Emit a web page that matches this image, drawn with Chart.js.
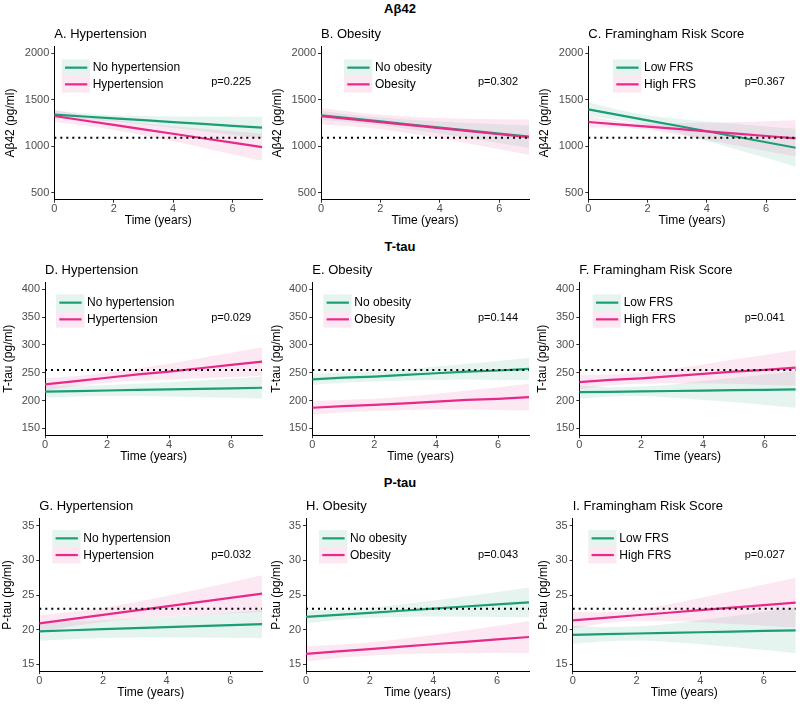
<!DOCTYPE html>
<html><head><meta charset="utf-8">
<script src="https://cdn.jsdelivr.net/npm/chart.js@4.4.1/dist/chart.umd.min.js"></script>
<style>
html,body{margin:0;padding:0;background:#fff;}
#wrap{position:relative;width:800px;height:704px;overflow:hidden;font-family:"Liberation Sans",Arial,sans-serif;}
.rowtitle{position:absolute;left:0;width:800px;text-align:center;font-weight:bold;font-size:13px;line-height:16px;color:#000;}
canvas{position:absolute;}
</style></head><body>
<div id="wrap">
<div class="rowtitle" style="top:1px">Aβ42</div>
<div class="rowtitle" style="top:238.5px">T-tau</div>
<div class="rowtitle" style="top:474.8px">P-tau</div>
</div>
<script>
// ---------- data ----------
const times = [0,1,2,3,4,5,6,7];
const xTicks = [0,2,4,6];
const xRange = [0,7];
const abTicks = [500,1000,1500,2000];
const ttauTicks = [150,200,250,300,350,400];
const ptauTicks = [15,20,25,30,35];
const abRange = [425,2075];
const ttauRange = [137.5,412.5];
const ptauRange = [14,36];
const abCutoff = 1092, ttauCutoff = 255, ptauCutoff = 23;

// A. Hypertension (Abeta42)
const A_noHtn_fit = [1340,1320,1300,1280,1260,1240,1220,1200];
const A_noHtn_lo  = [1295,1286,1266,1235,1199,1161,1122,1082];
const A_noHtn_hi  = [1385,1354,1334,1325,1321,1319,1318,1318];
const A_htn_fit   = [1325,1277,1229,1181,1134,1086,1038,990];
const A_htn_lo    = [1260,1222,1174,1116,1053,985,915,845];
const A_htn_hi    = [1390,1332,1284,1246,1215,1187,1161,1135];
// B. Obesity (Abeta42)
const B_noObe_fit = [1332,1299,1267,1234,1201,1168,1136,1103];
const B_noObe_lo  = [1282,1258,1226,1184,1136,1086,1035,983];
const B_noObe_hi  = [1382,1340,1308,1284,1266,1250,1237,1223];
const B_obe_fit   = [1325,1292,1260,1227,1195,1162,1129,1097];
const B_obe_lo    = [1235,1214,1182,1137,1085,1028,967,907];
const B_obe_hi    = [1415,1370,1338,1317,1305,1297,1291,1287];
// C. FRS (Abeta42)
const C_low_fit  = [1397,1338,1279,1220,1161,1102,1043,984];
const C_low_lo   = [1322,1283,1224,1145,1057,966,873,779];
const C_low_hi   = [1472,1393,1334,1295,1265,1239,1213,1189];
const C_high_fit = [1261,1236,1211,1186,1160,1135,1110,1085];
const C_high_lo  = [1201,1202,1177,1126,1068,1009,950,890];
const C_high_hi  = [1321,1270,1245,1246,1252,1261,1270,1280];
// D. Hypertension (T-tau)
const D_noHtn_fit = [216,217,218,219,220,221,222,223];
const D_noHtn_lo  = [205,207,208,208,207,206,205,203];
const D_noHtn_hi  = [227,227,228,230,233,236,239,243];
const D_htn_fit   = [229,235,241,247,252,258,264,270];
const D_htn_lo    = [218,226,232,236,238,240,242,244];
const D_htn_hi    = [240,244,250,258,266,276,286,296];
// E. Obesity (T-tau)
const E_noObe_fit = [238,241,243,246,249,252,254,257];
const E_noObe_lo  = [228,232,234,236,237,238,237,237];
const E_noObe_hi  = [248,250,252,256,261,266,271,277];
const E_obe_fit   = [187,190,192,195,198,201,203,206];
const E_obe_lo    = [175,179,181,183,184,184,183,182];
const E_obe_hi    = [199,201,203,207,212,218,224,230];
// F. FRS (T-tau)
const F_low_fit  = [215,215.7,216.4,217.1,217.9,218.6,219.3,220];
const F_low_lo   = [203,207,208,205,201,197,192,187];
const F_low_hi   = [227,224,225,229,235,241,247,253];
const F_high_fit = [233,237,240,244,248,252,255,259];
const F_high_lo  = [220,227,230,231,231,230,228,227];
const F_high_hi  = [246,247,250,257,265,274,282,291];
// G. Hypertension (P-tau)
const G_noHtn_fit = [19.76,19.91,20.06,20.21,20.35,20.50,20.65,20.8];
const G_noHtn_lo  = [18.41,18.63,18.78,18.86,18.88,18.87,18.82,18.75];
const G_noHtn_hi  = [21.11,21.2,21.35,21.56,21.82,22.13,22.48,22.85];
const G_htn_fit   = [20.9,21.51,22.13,22.74,23.36,23.97,24.59,25.2];
const G_htn_lo    = [19.7,20.49,21.11,21.54,21.86,22.12,22.35,22.55];
const G_htn_hi    = [22.1,22.53,23.15,23.94,24.86,25.82,26.83,27.85];
// H. Obesity (P-tau)
const H_noObe_fit = [21.83,22.13,22.43,22.73,23.04,23.34,23.64,23.94];
const H_noObe_lo  = [20.93,21.4,21.7,21.83,21.88,21.87,21.84,21.79];
const H_noObe_hi  = [22.73,22.86,23.16,23.63,24.2,24.81,25.44,26.09];
const H_obe_fit   = [16.5,16.85,17.2,17.55,17.89,18.24,18.59,18.94];
const H_obe_lo    = [15.4,15.89,16.24,16.45,16.55,16.61,16.63,16.64];
const H_obe_hi    = [17.6,17.81,18.16,18.65,19.23,19.87,20.55,21.24];
// I. FRS (P-tau)
const I_low_fit  = [19.25,19.34,19.44,19.53,19.62,19.71,19.81,19.9];
const I_low_lo   = [17.95,18.32,18.42,18.23,17.89,17.48,17.05,16.6];
const I_low_hi   = [20.55,20.36,20.46,20.83,21.35,21.94,22.57,23.2];
const I_high_fit = [21.35,21.71,22.08,22.44,22.81,23.17,23.54,23.9];
const I_high_lo  = [20.15,20.92,21.29,21.24,21.05,20.81,20.57,20.3];
const I_high_hi  = [22.55,22.5,22.87,23.64,24.57,25.53,26.51,27.5];

// ---------- layout / style ----------
const FAMILY = '"Liberation Sans", Arial, Helvetica, sans-serif';
Chart.defaults.font.family = FAMILY;
const GREEN = '#1b9e77', PINK = '#e7298a';
const GREEN_F = 'rgba(27,158,119,0.11)', PINK_F = 'rgba(231,41,138,0.11)';
const colLeft = [0,267,534], colWidth = [267,267,266];
const plotRight = [262.2,529,795.8];
const rowCanvasTop = [16,252,488], canvasH = 214;
const rowPlotTop = [46.3,282.4,518.8];
const rowPlotBottom = [199.7,435.25,671.2];
const rowLegendDy = [13,11.9,11.2];

const panels = [
 {r:0,c:0,title:'A. Hypertension',yLab:'Aβ42 (pg/ml)',range:abRange,ticks:abTicks,cut:abCutoff,p:'p=0.225',plotLeft:54.3,yTitleX:11,legDx:7.4,
  labels:['No hypertension','Hypertension'],s1:[A_noHtn_fit,A_noHtn_lo,A_noHtn_hi],s2:[A_htn_fit,A_htn_lo,A_htn_hi]},
 {r:0,c:1,title:'B. Obesity',yLab:'Aβ42 (pg/ml)',range:abRange,ticks:abTicks,cut:abCutoff,p:'p=0.302',plotLeft:321,yTitleX:277.7,legDx:23,
  labels:['No obesity','Obesity'],s1:[B_noObe_fit,B_noObe_lo,B_noObe_hi],s2:[B_obe_fit,B_obe_lo,B_obe_hi]},
 {r:0,c:2,title:'C. Framingham Risk Score',yLab:'Aβ42 (pg/ml)',range:abRange,ticks:abTicks,cut:abCutoff,p:'p=0.367',plotLeft:588.3,yTitleX:545,legDx:24.7,
  labels:['Low FRS','High FRS'],s1:[C_low_fit,C_low_lo,C_low_hi],s2:[C_high_fit,C_high_lo,C_high_hi]},
 {r:1,c:0,title:'D. Hypertension',yLab:'T-tau (pg/ml)',range:ttauRange,ticks:ttauTicks,cut:ttauCutoff,p:'p=0.029',plotLeft:45,yTitleX:8.3,legDx:11,
  labels:['No hypertension','Hypertension'],s1:[D_noHtn_fit,D_noHtn_lo,D_noHtn_hi],s2:[D_htn_fit,D_htn_lo,D_htn_hi]},
 {r:1,c:1,title:'E. Obesity',yLab:'T-tau (pg/ml)',range:ttauRange,ticks:ttauTicks,cut:ttauCutoff,p:'p=0.144',plotLeft:312.3,yTitleX:276.7,legDx:11,
  labels:['No obesity','Obesity'],s1:[E_noObe_fit,E_noObe_lo,E_noObe_hi],s2:[E_obe_fit,E_obe_lo,E_obe_hi]},
 {r:1,c:2,title:'F. Framingham Risk Score',yLab:'T-tau (pg/ml)',range:ttauRange,ticks:ttauTicks,cut:ttauCutoff,p:'p=0.041',plotLeft:579.3,yTitleX:542.3,legDx:13.4,
  labels:['Low FRS','High FRS'],s1:[F_low_fit,F_low_lo,F_low_hi],s2:[F_high_fit,F_high_lo,F_high_hi]},
 {r:2,c:0,title:'G. Hypertension',yLab:'P-tau (pg/ml)',range:ptauRange,ticks:ptauTicks,cut:ptauCutoff,p:'p=0.032',plotLeft:39.3,yTitleX:8,legDx:13,
  labels:['No hypertension','Hypertension'],s1:[G_noHtn_fit,G_noHtn_lo,G_noHtn_hi],s2:[G_htn_fit,G_htn_lo,G_htn_hi]},
 {r:2,c:1,title:'H. Obesity',yLab:'P-tau (pg/ml)',range:ptauRange,ticks:ptauTicks,cut:ptauCutoff,p:'p=0.043',plotLeft:306,yTitleX:276.2,legDx:13,
  labels:['No obesity','Obesity'],s1:[H_noObe_fit,H_noObe_lo,H_noObe_hi],s2:[H_obe_fit,H_obe_lo,H_obe_hi]},
 {r:2,c:2,title:'I. Framingham Risk Score',yLab:'P-tau (pg/ml)',range:ptauRange,ticks:ptauTicks,cut:ptauCutoff,p:'p=0.027',plotLeft:572.7,yTitleX:543.3,legDx:15.6,
  labels:['Low FRS','High FRS'],s1:[I_low_fit,I_low_lo,I_low_hi],s2:[I_high_fit,I_high_lo,I_high_hi]}
];

const panelDeco = {
  id:'panelDeco',
  afterDraw(chart, args, o){
    const ctx = chart.ctx, ca = chart.chartArea;
    ctx.save();
    ctx.fillStyle = '#000';
    ctx.font = '13px ' + FAMILY;
    ctx.textAlign = 'left'; ctx.textBaseline = 'alphabetic';
    ctx.fillText(o.title, ca.left, ca.top - 8.8);
    const kx = ca.left + o.legDx, ky = ca.top + o.legDy, kh = 16.7, kw = 28.3;
    o.items.forEach((it, i) => {
      const y0 = ky + i*kh;
      ctx.fillStyle = it.fill;
      ctx.fillRect(kx, y0, kw, kh);
      ctx.strokeStyle = it.color; ctx.lineWidth = 2.2; ctx.lineCap = 'butt';
      ctx.beginPath(); ctx.moveTo(kx+3.3, y0+kh/2); ctx.lineTo(kx+kw-2.7, y0+kh/2); ctx.stroke();
      ctx.fillStyle = '#000'; ctx.font = '12px ' + FAMILY;
      ctx.textBaseline = 'middle'; ctx.textAlign = 'left';
      ctx.fillText(it.label, kx + 31, y0 + kh/2 + 0.5);
    });
    ctx.font = '11px ' + FAMILY; ctx.textAlign = 'right'; ctx.textBaseline = 'middle';
    ctx.fillText(o.p, ca.right - 11, ca.top + 36);
    ctx.restore();
  }
};

const wrap = document.getElementById('wrap');
panels.forEach(p => {
  const cv = document.createElement('canvas');
  const L = colLeft[p.c], T = rowCanvasTop[p.r], W = colWidth[p.c];
  cv.width = W; cv.height = canvasH;
  cv.style.left = L + 'px'; cv.style.top = T + 'px';
  cv.style.width = W + 'px'; cv.style.height = canvasH + 'px';
  wrap.appendChild(cv);
  const padL = p.yTitleX - L - 7.2;
  const yW = p.plotLeft - L - padL;
  const padR = L + W - plotRight[p.c];
  const padT = rowPlotTop[p.r] - T;
  const xH = T + canvasH - rowPlotBottom[p.r];
  const xTitlePad = xH - 7.2 - 21.4;
  const pts = a => times.map((t,i) => ({x:t, y:a[i]}));
  const band = (a, fill, fillTo, ord) => ({data:pts(a), borderColor:'rgba(0,0,0,0)', borderWidth:1, backgroundColor:fill,
    fill:fillTo, pointRadius:0, tension:0.4, cubicInterpolationMode:'monotone', order:ord});
  const fitLine = (a, col, ord) => ({data:pts(a), borderColor:col, borderWidth:2.2, fill:false, pointRadius:0, tension:0, order:ord});
  const datasets = [
    band(p.s1[2], GREEN_F, '+1', 5),
    band(p.s1[1], GREEN_F, false, 6),
    band(p.s2[2], PINK_F, '+1', 3),
    band(p.s2[1], PINK_F, false, 4),
    fitLine(p.s1[0], GREEN, 2),
    fitLine(p.s2[0], PINK, 1),
    {data:[{x:times[0], y:p.cut},{x:times[times.length-1], y:p.cut}], borderColor:'#000', borderWidth:2,
     borderDash:[2,4], fill:false, pointRadius:0, order:0}
  ];
  const tickFont = {size:11, family:FAMILY};
  const gridCfg = {display:true, drawOnChartArea:false, drawTicks:true, tickLength:3, tickColor:'#333', tickWidth:1};
  new Chart(cv, {
    type:'line',
    data:{datasets},
    options:{
      responsive:false, animation:false, events:[],
      layout:{padding:{left:padL, right:padR, top:padT, bottom:0}},
      plugins:{legend:{display:false}, tooltip:{enabled:false}, title:{display:false},
        filler:{drawTime:'beforeDatasetsDraw', propagate:false},
        panelDeco:{title:p.title, p:p.p, legDx:p.legDx, legDy:rowLegendDy[p.r],
          items:[{label:p.labels[0], color:GREEN, fill:GREEN_F},{label:p.labels[1], color:PINK, fill:PINK_F}]}},
      scales:{
        x:{type:'linear', min:xRange[0], max:xRange[1],
          afterBuildTicks:s => { s.ticks = xTicks.map(v => ({value:v})); },
          afterFit:s => { s.height = xH; },
          ticks:{color:'#4d4d4d', font:tickFont, padding:0, maxRotation:0, autoSkip:false, callback:v => String(v)},
          grid:gridCfg, border:{display:true, color:'#000', width:1},
          title:{display:true, text:'Time (years)', color:'#000', font:{size:12, family:FAMILY}, padding:{top:0, bottom:xTitlePad}}},
        y:{type:'linear', min:p.range[0], max:p.range[1],
          afterBuildTicks:s => { s.ticks = p.ticks.map(v => ({value:v})); },
          afterFit:s => { s.width = yW; },
          ticks:{color:'#4d4d4d', font:tickFont, padding:2, autoSkip:false, callback:v => String(v)},
          grid:gridCfg, border:{display:true, color:'#000', width:1},
          title:{display:true, text:p.yLab, color:'#000', font:{size:12, family:FAMILY}, padding:{top:0, bottom:0}}}
      }
    },
    plugins:[panelDeco]
  });
});
</script>
</body></html>
